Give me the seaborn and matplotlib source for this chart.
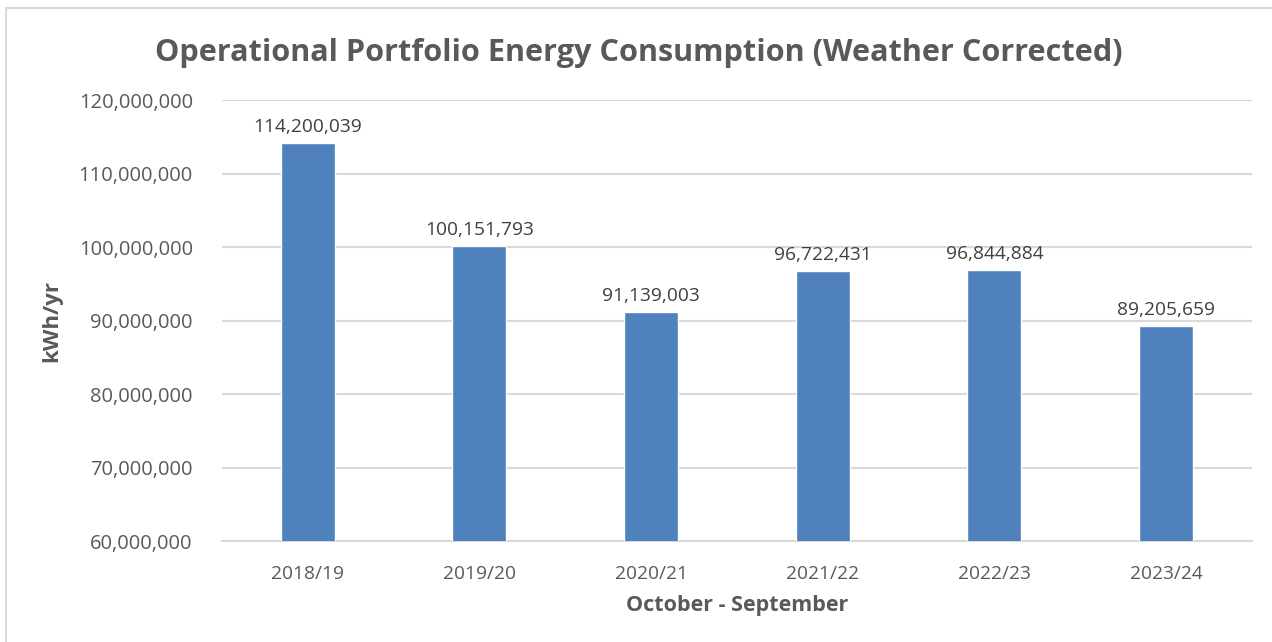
import matplotlib
matplotlib.use('Agg')
import matplotlib.pyplot as plt
import seaborn as sns
import pandas as pd
from matplotlib.ticker import FuncFormatter
from matplotlib.patches import Rectangle

# datos
years = ['2018/19', '2019/20', '2020/21', '2021/22', '2022/23', '2023/24']
consumo = [114200039, 100151793, 91139003, 96722431, 96844884, 89205659]

df = pd.DataFrame({'year': years, 'kwh': consumo})

sns.set_theme(style='white')
plt.rcParams['font.family'] = ['Open Sans', 'DejaVu Sans']

gris = '#595959'
fig = plt.figure(figsize=(12.72, 6.42), dpi=100)
ax = fig.add_axes([0.1745, 0.1573, 0.8097, 0.6869])

sns.barplot(data=df, x='year', y='kwh', color='#4F81BD', saturation=1,
            width=0.315, ax=ax, zorder=3)

ax.set_ylim(60000000, 120000000)
ax.set_yticks(range(60000000, 120000001, 10000000))
ax.yaxis.set_major_formatter(FuncFormatter(lambda v, p: f'{int(v):,}'))
ax.grid(axis='y', color='#D9D9D9', linewidth=1.5, zorder=0)
ax.set_axisbelow(True)
for s in ['top', 'right', 'left']:
    ax.spines[s].set_visible(False)
ax.spines['bottom'].set_color('#D9D9D9')
ax.spines['bottom'].set_linewidth(1.5)
ax.tick_params(axis='y', length=0, colors=gris, labelsize=14.5, pad=21)
ax.tick_params(axis='x', length=0, colors=gris, labelsize=13.8, pad=17)

# etiquetas de valores
for i, v in enumerate(consumo):
    ax.annotate(f'{v:,}', xy=(i, v), xytext=(0, 5), textcoords='offset points',
                ha='center', va='bottom', fontsize=13.8, color='#404040')

ax.set_xlabel('October - September', fontsize=15.5, fontweight='bold', color=gris, labelpad=9)
ax.yaxis.set_label_coords(-160 / 1030, 0.5)
ax.set_ylabel('kWh/yr', fontsize=16, fontweight='bold', color=gris)

fig.text(0.5025, 0.918, 'Operational Portfolio Energy Consumption (Weather Corrected)',
         ha='center', va='center', fontsize=22.1, fontweight='bold', color=gris)

# borde del grafico
fig.patches.append(Rectangle((6 / 1272, -0.01), 1.0, 1 - 8 / 642 + 0.01,
                             transform=fig.transFigure, fill=False,
                             edgecolor='#D9D9D9', linewidth=1.5))

fig.savefig('out.png', dpi=100)
